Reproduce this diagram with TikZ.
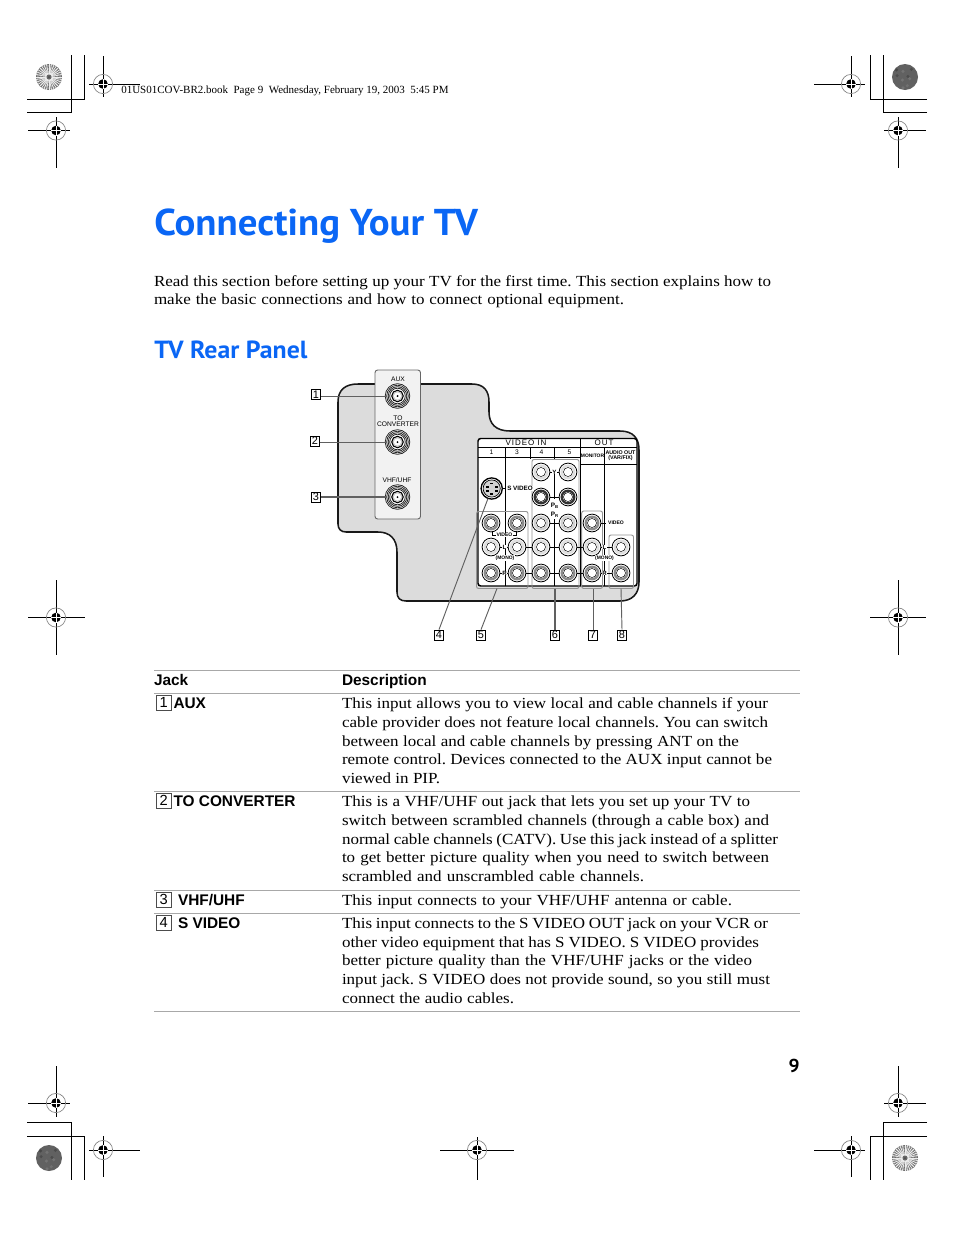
\documentclass[tikz,border=0pt]{standalone}
\usepackage{fontspec}
\setmainfont[FakeStretch=1.105]{Liberation Serif}
\newfontfamily\hd{Liberation Sans}
\newfontfamily\hdsp[LetterSpace=12]{Liberation Sans}
\newfontfamily\ttl[FakeStretch=1.04]{PT Sans}
\newfontfamily\plain{Liberation Serif}
\definecolor{sonyblue}{HTML}{0A66F5}
\definecolor{shell}{HTML}{DCDCDC}
\definecolor{rulegray}{HTML}{A8A8A8}
\newcounter{tlc}
\newlength{\tlw}
% text line: x, baseline y, right end x, text
\newcommand{\tl}[4]{\stepcounter{tlc}\pgfmathsetlength{\tlw}{(#3-#1)*0.75pt}\node[txt] (tl\thetlc) at (#1,#2) {\frenchspacing\makebox[\tlw][s]{#4}};}
\newcommand{\pl}[3]{\stepcounter{tlc}\node[panellab] (tl\thetlc) at (#1,#2) {#3};}
% registration mark
\newcommand{\regm}[7]{%
 \coordinate (r#1) at (#2,#3);
 \draw[mk] (#4,#3) -- (#5,#3);
 \draw[mk] (#2,#6) -- (#2,#7);
 \draw[gray,line width=.5pt] (r#1) circle (9.6);
 \fill[black] (r#1) circle (4.8);
 \draw[white,line width=.5pt] ($(r#1)+(-5,0)$) -- ($(r#1)+(5,0)$);
 \draw[white,line width=.5pt] ($(r#1)+(0,-5)$) -- ($(r#1)+(0,5)$);
}
% RCA jack: node name, x, y, ring colour
\newcommand{\jack}[4]{%
 \node[jk] (#1) at (#2,#3) {};
 \fill[white] (#1) circle (8.9);
 \draw[black,line width=.6pt] (#1) circle (8.9);
 \draw[#4,line width=1.7pt] (#1) circle (6.3);
 \draw[black,line width=.5pt] (#1) circle (4.4);
 \fill[white] (#1) circle (4);
}
% antenna jack
\newcommand{\ant}[3]{%
 \node[jk] (#1) at (#2,#3) {};
 \fill[white] (#1) circle (12.3);
 \foreach \rr in {12.3,10.8,9.3,7.8}{\draw[black!85,line width=.6pt] (#1) circle (\rr);}
 \draw[black,line width=1pt] (#1) circle (5.6);
 \fill[gray!45] (#1) circle (5);
 \fill[white] (#1) circle (3.6);
 \fill[black] (#1) circle (1);
}
\usetikzlibrary{calc}
\tikzset{
 mk/.style={black,line width=.75pt},
 txt/.style={anchor=base west,inner sep=0,outer sep=0,font=\fontsize{11.55}{14}\selectfont,text=black},
 hdt/.style={anchor=base west,inner sep=0,outer sep=0,font=\hd\bfseries\fontsize{11.55}{14}\selectfont},
 panellab/.style={inner sep=0,outer sep=0,font=\hd\fontsize{5}{5.4}\selectfont,align=center},
 tinyb/.style={panellab,fill=white,inner xsep=.4pt,inner ysep=.2pt},
 jk/.style={circle,inner sep=0,minimum size=16pt,outer sep=0},
 gbox/.style={draw=gray!85,line width=.7pt,rounded corners=1.5},
 numbox/.style={draw=black,line width=.45pt,fill=white,inner sep=0,minimum width=7pt,minimum height=7.6pt},
 lead/.style={gray!75!black,line width=.7pt},
 trule/.style={rulegray,line width=.6pt},
 cell/.style={black,line width=.75pt},
}
\begin{document}
\begin{tikzpicture}[x=0.75pt,y=-0.75pt]
\useasboundingbox[fill=white] (0,0) rectangle (954,1235);
% crop marks
\draw[mk] (27,99) -- (84,99) -- (84,55);
\draw[mk] (27,112) -- (71,112) -- (71,55);
\draw[mk] (927,99) -- (870,99) -- (870,55);
\draw[mk] (927,112) -- (883,112) -- (883,55);
\draw[mk] (27,1122) -- (71,1122) -- (71,1180);
\draw[mk] (27,1136) -- (84,1136) -- (84,1180);
\draw[mk] (927,1122) -- (883,1122) -- (883,1180);
\draw[mk] (927,1136) -- (870,1136) -- (870,1180);
\regm{a}{103}{84}{89}{140}{56}{97}
\regm{b}{56}{130.5}{28}{70}{117}{168}
\regm{c}{851}{84}{814}{865}{56}{97}
\regm{d}{898}{130.5}{884}{926}{117}{168}
\regm{e}{56}{617.5}{28}{85}{580}{655}
\regm{f}{898}{617.5}{870}{926}{580}{655}
\regm{g}{56}{1103}{28}{70}{1066}{1117}
\regm{h}{103}{1150}{89}{140}{1136}{1177}
\regm{i}{898}{1103}{884}{926}{1066}{1117}
\regm{j}{851}{1150}{814}{865}{1136}{1177}
\regm{k}{477}{1150}{440}{514}{1137}{1180}
% star discs
\foreach \cx/\cy in {49/77,905/1158}{
 \fill[gray!70] (\cx,\cy) circle (13);
 \foreach \rr in {12.5,11,9.5,8,6.5,5}{\draw[black!60,line width=.55pt] (\cx,\cy) circle (\rr);}
 \foreach \a in {0,11.25,...,349}{\draw[white!85!gray,line width=.6pt] ($(\cx,\cy)+(\a:2.5)$) -- ($(\cx,\cy)+(\a:13)$);}
 \fill[gray!80!black] (\cx,\cy) circle (2.5);
 \fill[black!70] (\cx,\cy) circle (1);
}
\foreach \cx/\cy in {905/77,49/1158}{
 \fill[black!62] (\cx,\cy) circle (13);
 \foreach \a/\r/\g in {20/5/55,75/9/56,130/4/55,190/8/70,250/6/55,310/10/70,350/3/70,100/11/55,220/11/72}{
  \fill[black!\g] ($(\cx,\cy)+(\a:\r)$) circle (1.7);}
}
% header
\node[anchor=base west,inner sep=0,font=\plain\fontsize{8.25}{9}\selectfont] (book) at (121,93) {01US01COV-BR2.book\ \ Page 9\ \ Wednesday, February 19, 2003\ \ 5:45 PM};
% titles
\node[anchor=base west,inner sep=0,text=sonyblue,font=\ttl\bfseries\fontsize{28}{30}\selectfont] (title) at (154,235) {Connecting Your TV};
\node[anchor=base west,inner sep=0,text=sonyblue,font=\ttl\bfseries\fontsize{18.6}{22}\selectfont] (sub) at (154,358) {TV Rear Panel};
\tl{154}{286}{771}{Read this section before setting up your TV for the first time. This section explains how to}
\tl{154}{304}{624}{make the basic connections and how to connect optional equipment.}
% shell
\draw[fill=shell,draw=black!90,line width=1.15pt]
 (338,402) .. controls (338,390) and (345,384) .. (358,384) -- (472,384)
 .. controls (484,384) and (489,391) .. (489,402) -- (489,412)
 .. controls (489,424) and (496,431) .. (510,431) -- (620,431)
 .. controls (633,431) and (639,438) .. (639,450) -- (639,582)
 .. controls (639,594) and (632,601) .. (620,601) -- (406,601)
 .. controls (400,601) and (397,598) .. (397,592) -- (397,552)
 .. controls (397,539) and (390,532) .. (378,532) -- (346,532)
 .. controls (341,532) and (338,529) .. (338,524) -- cycle;
% aux panel
\draw[fill=gray!10,draw=gray!80!black,line width=.7pt,rounded corners=2] (375,370) rectangle (420.5,519);
\ant{auxj}{397.5}{396}
\ant{conv}{397.5}{442}
\ant{vhf}{397.5}{497}
\pl{398}{379}{AUX}
\pl{398}{421}{TO\\[-.5pt]CONVERTER}
\pl{397}{480}{VHF/UHF}
% connector panel
\draw[fill=white,draw=black,line width=1.1pt,rounded corners=2] (478,438.5) rectangle (637,586);
\draw[cell] (478,447) -- (637,447);
\draw[cell] (478,457) -- (580.5,457);
\draw[cell] (580.5,464.5) -- (637,464.5);
\draw[cell] (505.5,447) -- (505.5,586);
\draw[cell] (530,447) -- (530,459);
\draw[cell] (554.5,447) -- (554.5,459);
\draw[cell] (554.5,472) -- (554.5,499);
\draw[cell] (554.5,519) -- (554.5,586);
\draw[cell] (580.5,438.5) -- (580.5,586);
\draw[cell] (604.5,447) -- (604.5,586);
% group boxes
\draw[gbox] (476.5,511.5) rectangle (528,588.5);
\draw[gbox] (532,459.5) rectangle (579,588.5);
\draw[gbox] (581.7,511) rectangle (602.5,588.5);
\draw[gbox] (609,535) rectangle (633.5,588.5);
% header labels
\node[panellab,font=\hdsp\fontsize{6}{7}\selectfont] (vin) at (526,443) {VIDEO IN};
\node[panellab,font=\hdsp\fontsize{6}{7}\selectfont] (vout) at (604,443) {OUT};
\pl{491.5}{452.5}{1}\pl{517}{452.5}{3}\pl{541.5}{452.5}{4}\pl{569.5}{452.5}{5}
\node[panellab,font=\hd\bfseries\fontsize{3.7}{4}\selectfont] (mon) at (592.5,455.5) {MONITOR};
\node[panellab,font=\hd\bfseries\fontsize{4}{4.3}\selectfont] (aud) at (620.5,455.6) {AUDIO OUT\\(VAR/FIX)};
% horizontal links
\draw[cell] (491,547) -- (621,547);
\draw[cell] (491,573) -- (621,573);
\draw[cell] (541,472) -- (568,472);
\draw[cell] (541,497) -- (568,497);
\draw[cell] (541,523) -- (568,523);
\draw[cell] (592,523) -- (606,523);
\draw[cell] (505,488.5) -- (500,488.5);
% jacks
\foreach \n/\x/\y/\c in {
 a/491/523/gray!90, b/517/523/gray!90,
 c/491/547/gray!25, d/517/547/gray!25,
 e/491/573/gray!90, f/517/573/gray!90,
 g/541/472/gray!25, h/568/472/gray!25,
 i/541/497/black!80, j/568/497/black!80,
 k/541/523/gray!35, l/568/523/gray!35,
 m/541/547/gray!25, n/568/547/gray!25,
 o/541/573/gray!90, p/568/573/gray!90,
 q/592/523/gray!90, r/592/547/gray!25, s/592/573/gray!90,
 t/621/547/gray!25, u/621/573/gray!90}{\jack{J\n}{\x}{\y}{\c}}
% S-video
\node[jk] (sv) at (491.7,488.5) {};
\fill[white] (sv) circle (11);
\draw[black,line width=1pt] (sv) circle (10.6);
\fill[gray!35] (sv) circle (8.6);
\draw[black,line width=.5pt] (sv) circle (8.6);
\foreach \dx/\dy in {-1.5/-6,-5.5/-2.5,3/-2.5,-5.5/1.5,3/1.5,-1.5/4.5}{
 \fill[black] ($(sv)+(\dx,\dy)$) rectangle ++(3,1.8);}
% panel small labels
\node[tinyb,font=\hd\bfseries\fontsize{4.7}{5}\selectfont] (slab) at (520,488.5) {S VIDEO};
\node[tinyb,font=\hd\bfseries\fontsize{3.8}{4}\selectfont] (vlab) at (504.5,535) {VIDEO};
\draw[cell] (492,531) -- (492,535) -- (vlab.west) (vlab.east) -- (516,535) -- (516,531);
\node[tinyb,font=\hd\bfseries\fontsize{4.6}{5}\selectfont] (l1) at (504.5,547) {L};
\node[tinyb,font=\hd\bfseries\fontsize{4.6}{5}\selectfont] (r1) at (504.5,573) {R};
\node[tinyb,font=\hd\bfseries\fontsize{3.7}{4}\selectfont] (mono1) at (505,558) {(MONO)};
\node[tinyb,font=\hd\bfseries\fontsize{4.6}{5}\selectfont] (ylab) at (554.5,472) {Y};
\node[tinyb,font=\hd\bfseries\fontsize{4.8}{5}\selectfont] (pb) at (554.5,505.5) {P\raisebox{-.6pt}{\fontsize{3.2}{3}\selectfont B}};
\node[tinyb,font=\hd\bfseries\fontsize{4.8}{5}\selectfont] (pr) at (554.5,515) {P\raisebox{-.6pt}{\fontsize{3.2}{3}\selectfont R}};
\node[tinyb,font=\hd\bfseries\fontsize{3.8}{4}\selectfont] (vl2) at (616,523) {VIDEO};
\node[tinyb,font=\hd\bfseries\fontsize{4.6}{5}\selectfont] (l2) at (604.5,547) {L};
\node[tinyb,font=\hd\bfseries\fontsize{4.6}{5}\selectfont] (r2) at (604.5,573) {R};
\node[tinyb,font=\hd\bfseries\fontsize{3.7}{4}\selectfont] (mono2) at (604.5,558) {(MONO)};
% callouts
\foreach \n/\x/\y in {1/316/394.5,2/315/441,3/316/497,4/439/635,5/481/635,6/555/635,7/593/635,8/622/635}{
 \node[numbox,font=\hd\fontsize{8.2}{8}\selectfont,minimum width=7pt,minimum height=7.6pt] (c\n) at (\x,\y) {\n};
}
\draw[lead] (c1.east|-auxj) -- (auxj);
\draw[lead] (c2.east|-conv) -- (conv);
\draw[lead,line width=1.1pt] (c3.east|-vhf) -- (vhf);
\coordinate (e5) at (497,588.5);
\coordinate (e6) at (555,588.5);
\coordinate (e7) at (593,588.5);
\coordinate (e8) at (621,588.5);
\draw[lead] (c4.north) -- (sv);
\draw[lead] (c5.north) -- (e5);
\draw[lead,line width=1.1pt] (c6.north) -- (e6);
\draw[lead] (c7.north) -- (e7);
\draw[lead] (c8.north) -- (e8);
% table
\foreach \y/\nm in {670/a,693/b,791/c,890/d,913/e,1011/f}{
 \coordinate (ruleL\nm) at (154,\y); \coordinate (ruleR\nm) at (800,\y);
 \draw[trule] (ruleL\nm) -- (ruleR\nm);
}
\node[hdt] (hj) at (154,685) {Jack};
\node[hdt] (hd) at (342,685) {Description};
\node[numbox,draw=black!70,font=\hd\fontsize{11}{12}\selectfont,minimum width=11.2pt,minimum height=11.2pt,anchor=north west] (n1) at (156,695) {1};
\node[numbox,draw=black!70,font=\hd\fontsize{11}{12}\selectfont,minimum width=11.2pt,minimum height=11.2pt,anchor=north west] (n2) at (156,793) {2};
\node[numbox,draw=black!70,font=\hd\fontsize{11}{12}\selectfont,minimum width=11.2pt,minimum height=11.2pt,anchor=north west] (n3) at (156,892) {3};
\node[numbox,draw=black!70,font=\hd\fontsize{11}{12}\selectfont,minimum width=11.2pt,minimum height=11.2pt,anchor=north west] (n4) at (156,915) {4};
\node[hdt] (j1) at (173.5,708) {AUX};
\node[hdt] (j2) at (173.5,806) {TO CONVERTER};
\node[hdt] (j3) at (178,905) {VHF/UHF};
\node[hdt] (j4) at (178,928) {S VIDEO};
\tl{342}{708}{768}{This input allows you to view local and cable channels if your}
\tl{342}{727}{768}{cable provider does not feature local channels. You can switch}
\tl{342}{746}{739}{between local and cable channels by pressing ANT on the}
\tl{342}{764}{772}{remote control. Devices connected to the AUX input cannot be}
\tl{342}{783}{440}{viewed in PIP.}
\tl{342}{806}{750}{This is a VHF/UHF out jack that lets you set up your TV to}
\tl{342}{825}{769}{switch between scrambled channels (through a cable box) and}
\tl{342}{844}{778}{normal cable channels (CATV). Use this jack instead of a splitter}
\tl{342}{862}{769}{to get better picture quality when you need to switch between}
\tl{342}{881}{644}{scrambled and unscrambled cable channels.}
\tl{342}{905}{732}{This input connects to your VHF/UHF antenna or cable.}
\tl{342}{928}{768}{This input connects to the S VIDEO OUT jack on your VCR or}
\tl{342}{947}{759}{other video equipment that has S VIDEO. S VIDEO provides}
\tl{342}{965}{752}{better picture quality than the VHF/UHF jacks or the video}
\tl{342}{984}{770}{input jack. S VIDEO does not provide sound, so you still must}
\tl{342}{1003}{514}{connect the audio cables.}
\node[anchor=base east,inner sep=0,font=\ttl\bfseries\fontsize{14}{16}\selectfont] (pg) at (800,1072) {9};
\end{tikzpicture}
\end{document}
